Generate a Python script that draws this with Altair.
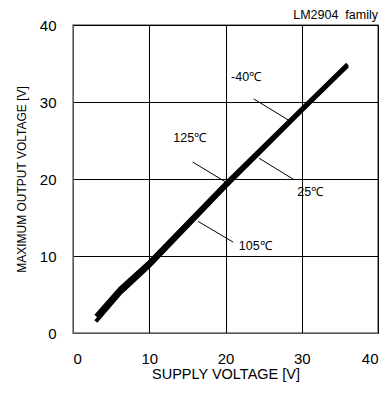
import altair as alt
import pandas as pd

# curve data (supply voltage vs max output voltage), band of temperature curves
vcc_hi = [3, 6.2, 10, 20, 30, 36]
vout_hi = [2.2, 5.8, 9.2, 19.4, 29.1, 34.9]
vcc_lo = [3, 6.2, 10, 20, 30, 36]
vout_lo = [1.5, 5.2, 8.7, 19.0, 28.9, 34.7]

# annotation labels
lab_text = ["-40℃", "125℃", "25℃", "105℃"]
lab_x = [22.7, 15.3, 31.1, 23.9]
lab_y = [33.2, 25.3, 18.3, 11.3]
# leader lines
ld_x1 = [23.7, 15.7, 24.4, 16.4]
ld_y1 = [30.4, 22.2, 22.7, 14.5]
ld_x2 = [28.5, 20.2, 29.0, 21.0]
ld_y2 = [27.5, 19.5, 19.9, 11.8]

curve = pd.DataFrame({
    "x": vcc_hi + vcc_lo,
    "y": vout_hi + vout_lo,
    "s": ["hi"] * len(vcc_hi) + ["lo"] * len(vcc_lo),
})
labels = pd.DataFrame({"t": lab_text, "x": lab_x, "y": lab_y})
leaders = pd.DataFrame({"x": ld_x1, "y": ld_y1, "x2": ld_x2, "y2": ld_y2})

FONT = "Liberation Sans"
xs = alt.Scale(domain=[0, 40], nice=False, zero=False)
ys = alt.Scale(domain=[0, 40], nice=False, zero=False)

xax = alt.Axis(values=[0, 10, 20, 30, 40], title="SUPPLY VOLTAGE [V]", grid=True,
               gridColor="#000000", gridWidth=1, gridOpacity=1, domainColor="#555555",
               ticks=False, labelPadding=18, labelFontSize=15, labelFont=FONT,
               labelColor="#000000", titleFont=FONT, titleFontSize=14.5,
               titleFontWeight="normal", titleColor="#000000", titlePadding=1)
yax = alt.Axis(values=[0, 10, 20, 30, 40], title="MAXIMUM OUTPUT VOLTAGE [V]", grid=True,
               gridColor="#000000", gridWidth=1, gridOpacity=1, domainColor="#555555",
               ticks=False, labelPadding=17, labelFontSize=15, labelFont=FONT,
               labelColor="#000000", titleFont=FONT, titleFontSize=12,
               titleFontWeight="normal", titleColor="#000000", titlePadding=11)

line = alt.Chart(curve).mark_line(color="black", strokeWidth=4).encode(
    x=alt.X("x:Q", scale=xs, axis=xax),
    y=alt.Y("y:Q", scale=ys, axis=yax),
    detail="s:N",
)
lead = alt.Chart(leaders).mark_rule(color="black", strokeWidth=1).encode(
    x=alt.X("x:Q", scale=xs), y=alt.Y("y:Q", scale=ys), x2="x2:Q", y2="y2:Q"
)
txt = alt.Chart(labels).mark_text(font=FONT, fontSize=12.5, color="black").encode(
    x=alt.X("x:Q", scale=xs), y=alt.Y("y:Q", scale=ys), text="t:N"
)

chart = alt.layer(line, lead, txt).properties(
    width=305, height=308,
    title=alt.TitleParams("LM2904\u00a0\u00a0family", anchor="end", font=FONT, fontSize=12.5,
                          fontWeight="normal", color="#000000", offset=-3),
    autosize=alt.AutoSizeParams(type="none"),
    padding={"left": 65, "top": 17, "right": 4, "bottom": 50},
).configure_view(stroke="#777777", strokeWidth=1.5)

chart.save("out.html", embed_options={"renderer": "svg", "actions": False})
